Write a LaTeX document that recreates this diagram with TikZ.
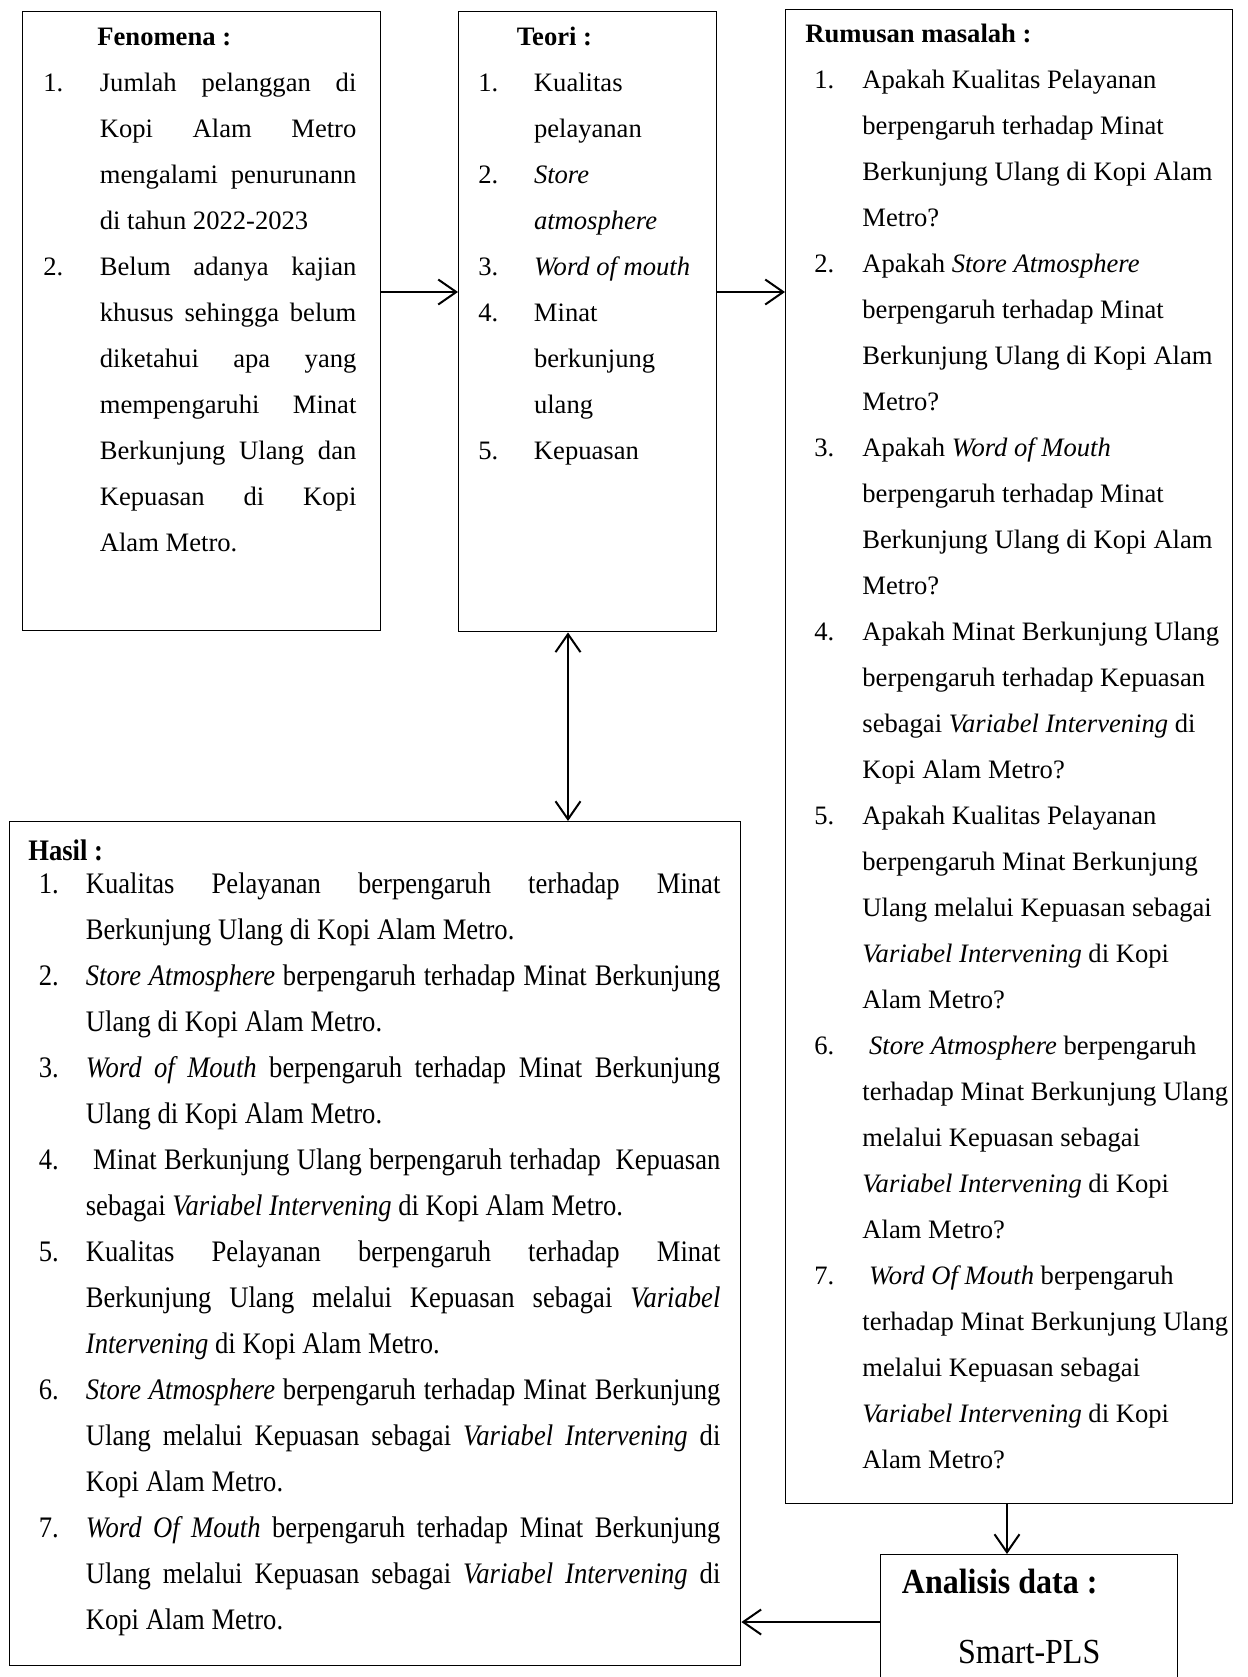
\documentclass[tikz,border=0pt]{standalone}
\usepackage{fontspec}
\setmainfont{Liberation Serif}
\usepackage{graphicx}
\usetikzlibrary{arrows.meta}

\newlength{\itemhang}
\newcommand{\nitem}[1]{\par\hangindent=\itemhang\hangafter=1\noindent\makebox[\itemhang][l]{#1}}
\newcommand{\bodysize}{\fontsize{13.3}{23}\selectfont}
\hyphenpenalty=10000
\exhyphenpenalty=10000
\tolerance=10000
\hbadness=10000

\begin{document}
\begin{tikzpicture}[x=0.5pt,y=-0.5pt,>={Straight Barb[length=9pt,width=12.5pt]},
    box/.style={draw,line width=0.7pt,inner sep=0pt,anchor=north west},
    list/.style={inner sep=0pt,anchor=base west,font=\bodysize},
    arr/.style={line width=1pt}]
    \useasboundingbox (0,0) rectangle (1248,1677);

    \node[box,minimum width=179pt,minimum height=309.5pt] (fen) at (22,11) {};
    \node[box,minimum width=129pt,minimum height=310pt] (teori) at (458,11) {};
    \node[box,minimum width=223.5pt,minimum height=747pt] (rumus) at (785,9) {};
    \node[box,minimum width=365.5pt,minimum height=422pt] (hasil) at (9,821) {};
    \node[box,minimum width=148.5pt,minimum height=73pt] (analisis) at (880,1554) {};

    \node[list] (fentext) at (43,45) {\begin{minipage}[t]{156.5pt}\setlength{\itemhang}{28.25pt}%
        \hspace*{27pt}\textbf{Fenomena :}
        \nitem{1.}Jumlah pelanggan di\linebreak Kopi Alam Metro\linebreak mengalami penurunann\linebreak di tahun 2022-2023
        \nitem{2.}Belum adanya kajian\linebreak khusus sehingga belum\linebreak diketahui apa yang\linebreak mempengaruhi Minat\linebreak Berkunjung Ulang dan\linebreak Kepuasan di Kopi\linebreak Alam Metro.
    \end{minipage}};

    \node[list] (teoritext) at (478,45) {\begin{minipage}[t]{118pt}\raggedright\setlength{\itemhang}{27.8pt}%
        \hspace*{19.25pt}\textbf{Teori :}
        \nitem{1.}Kualitas\newline pelayanan
        \nitem{2.}\textit{Store}\newline \textit{atmosphere}
        \nitem{3.}\textit{Word of mouth}
        \nitem{4.}Minat\newline berkunjung\newline ulang
        \nitem{5.}Kepuasan
    \end{minipage}};

    \node[list] (rumustext) at (814,42.5) {\begin{minipage}[t]{212pt}\raggedright\setlength{\itemhang}{24pt}%
        \hspace*{-4.5pt}\textbf{Rumusan masalah :}
        \nitem{1.}Apakah Kualitas Pelayanan\newline berpengaruh terhadap Minat\newline Berkunjung Ulang di Kopi Alam\newline Metro?
        \nitem{2.}Apakah \textit{Store Atmosphere}\newline berpengaruh terhadap Minat\newline Berkunjung Ulang di Kopi Alam\newline Metro?
        \nitem{3.}Apakah \textit{Word of Mouth}\newline berpengaruh terhadap Minat\newline Berkunjung Ulang di Kopi Alam\newline Metro?
        \nitem{4.}Apakah Minat Berkunjung Ulang\newline berpengaruh terhadap Kepuasan\newline sebagai \textit{Variabel Intervening} di\newline Kopi Alam Metro?
        \nitem{5.}Apakah Kualitas Pelayanan\newline berpengaruh Minat Berkunjung\newline Ulang melalui Kepuasan sebagai\newline \textit{Variabel Intervening} di Kopi\newline Alam Metro?
        \nitem{6.}\ \textit{Store Atmosphere} berpengaruh\newline terhadap Minat Berkunjung Ulang\newline melalui Kepuasan sebagai\newline \textit{Variabel Intervening} di Kopi\newline Alam Metro?
        \nitem{7.}\ \textit{Word Of Mouth} berpengaruh\newline terhadap Minat Berkunjung Ulang\newline melalui Kepuasan sebagai\newline \textit{Variabel Intervening} di Kopi\newline Alam Metro?
    \end{minipage}};

    \node[list] (hasilhead) at (28,860) {\scalebox{1}[1.12]{\textbf{Hasil :}}};
    \node[list] (hasiltext) at (38.5,893) {\scalebox{1}[1.12]{\begin{minipage}[t]{340.75pt}\fontsize{13.3}{20.55}\selectfont\setlength{\itemhang}{23.5pt}%
        \nitem{1.}Kualitas Pelayanan berpengaruh terhadap Minat\linebreak Berkunjung Ulang di Kopi Alam Metro.
        \nitem{2.}\textit{Store Atmosphere} berpengaruh terhadap Minat Berkunjung\linebreak Ulang di Kopi Alam Metro.
        \nitem{3.}\textit{Word of Mouth} berpengaruh terhadap Minat Berkunjung\linebreak Ulang di Kopi Alam Metro.
        \nitem{4.}\ Minat Berkunjung Ulang berpengaruh terhadap\ \ Kepuasan\linebreak sebagai \textit{Variabel Intervening} di Kopi Alam Metro.
        \nitem{5.}Kualitas Pelayanan berpengaruh terhadap Minat\linebreak Berkunjung Ulang melalui Kepuasan sebagai \textit{Variabel}\linebreak \textit{Intervening} di Kopi Alam Metro.
        \nitem{6.}\textit{Store Atmosphere} berpengaruh terhadap Minat Berkunjung\linebreak Ulang melalui Kepuasan sebagai \textit{Variabel Intervening} di\linebreak Kopi Alam Metro.
        \nitem{7.}\textit{Word Of Mouth} berpengaruh terhadap Minat Berkunjung\linebreak Ulang melalui Kepuasan sebagai \textit{Variabel Intervening} di\linebreak Kopi Alam Metro.
    \end{minipage}}};

    \node[list,font=\fontsize{16}{19}\selectfont] (analisishead) at (901.5,1593) {\scalebox{1}[1.1]{\textbf{Analisis data :}}};
    \node[list,anchor=base,font=\fontsize{16}{19}\selectfont] (smartpls) at (analisis.north |- 0,1663) {\scalebox{1}[1.1]{Smart-PLS}};

    \path[arr]
        (fen.east |- 0,292) edge[->] (teori.west |- 0,292)
        (teori.east |- 0,292) edge[->] (rumus.west |- 0,292)
        (teori.south -| 568,0) edge[<->] (hasil.north -| 568,0)
        (rumus.south -| 1007,0) edge[->] (analisis.north -| 1007,0)
        (analisis.west |- 0,1622) edge[->] (hasil.east |- 0,1622);
\end{tikzpicture}
\end{document}
